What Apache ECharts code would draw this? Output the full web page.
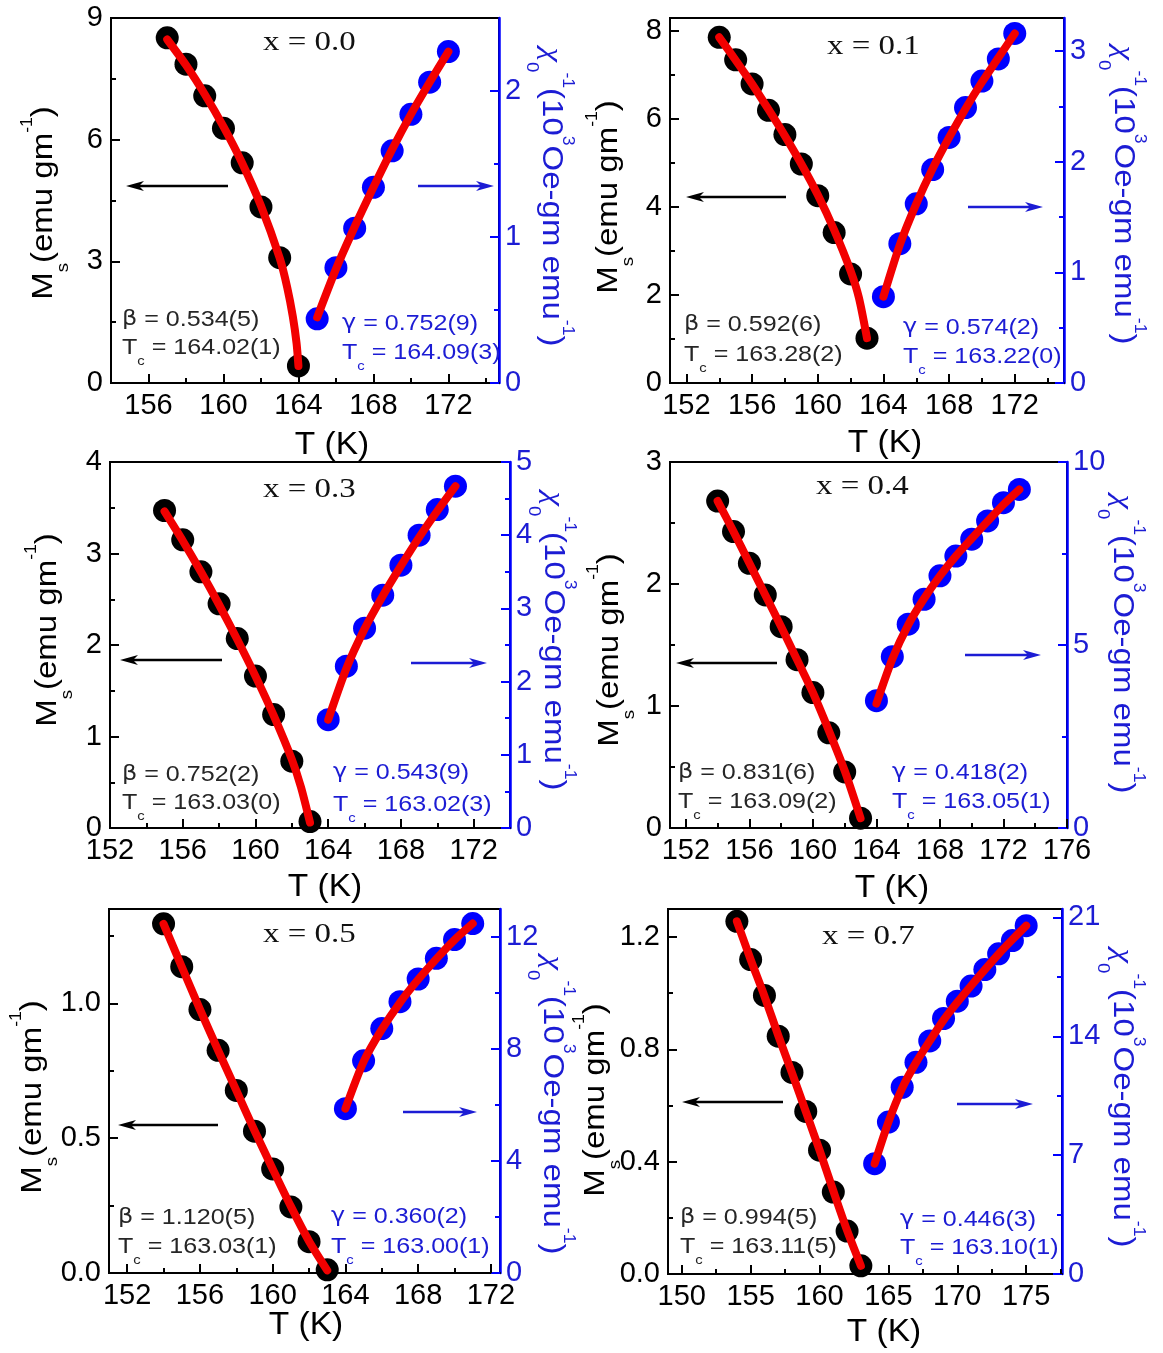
<!DOCTYPE html>
<html><head><meta charset="utf-8">
<script src="https://cdn.jsdelivr.net/npm/echarts@6/dist/echarts.min.js"></script>
<style>html,body{margin:0;padding:0;background:#fff}#c{width:1163px;height:1353px}</style>
</head><body><div id="c"></div>
<script>
// ---------------- DATA ----------------
// Panel 1: x = 0.0
const p1MsT = [157,158,159,160,161,162,163,164];
const p1Ms  = [8.51,7.86,7.08,6.28,5.43,4.34,3.09,0.42];
const p1ChiT = [165,166,167,168,169,170,171,172];
const p1Chi  = [0.44,0.79,1.06,1.34,1.59,1.84,2.06,2.27];
// Panel 2: x = 0.1
const p2MsT = [154,155,156,157,158,159,160,161,162,163];
const p2Ms  = [7.86,7.35,6.80,6.20,5.65,4.98,4.26,3.42,2.48,1.02];
const p2ChiT = [164,165,166,167,168,169,170,171,172];
const p2Chi  = [0.78,1.26,1.62,1.93,2.22,2.49,2.73,2.93,3.16];
// Panel 3: x = 0.3
const p3MsT = [155,156,157,158,159,160,161,162,163];
const p3Ms  = [3.47,3.15,2.80,2.45,2.07,1.66,1.24,0.73,0.07];
const p3ChiT = [164,165,166,167,168,169,170,171];
const p3Chi  = [1.48,2.21,2.73,3.18,3.59,4.00,4.35,4.67];
// Panel 4: x = 0.4
const p4MsT = [154,155,156,157,158,159,160,161,162,163];
const p4Ms  = [2.68,2.43,2.17,1.91,1.65,1.38,1.11,0.78,0.46,0.08];
const p4ChiT = [164,165,166,167,168,169,170,171,172,173];
const p4Chi  = [3.48,4.68,5.57,6.25,6.89,7.43,7.89,8.39,8.89,9.25];
// Panel 5: x = 0.5
const p5MsT = [154,155,156,157,158,159,160,161,162,163];
const p5Ms  = [1.295,1.136,0.977,0.826,0.677,0.526,0.386,0.245,0.116,0.012];
const p5ChiT = [164,165,166,167,168,169,170,171];
const p5Chi  = [5.87,7.58,8.73,9.69,10.50,11.24,11.91,12.48];
// Panel 6: x = 0.7
const p6MsT = [154,155,156,157,158,159,160,161,162,163];
const p6Ms  = [1.256,1.12,0.992,0.847,0.718,0.579,0.441,0.292,0.153,0.029];
const p6ChiT = [164,165,166,167,168,169,170,171,172,173,174,175];
const p6Chi  = [6.5,8.95,11.0,12.47,13.73,15.05,16.07,16.96,17.93,18.86,19.64,20.52];

// Red fit curves, values read along the drawn (smooth) curves
const p1FitMsT = [157,158,159,160,161,162,163,163.4,163.7,163.9,164];
const p1FitMs  = [8.47,7.84,7.12,6.32,5.42,4.37,3.08,2.36,1.64,0.98,0.42];
const p1FitChiT = [165,166,167,168,169,170,171,172];
const p1FitChi  = [0.45,0.78,1.07,1.34,1.60,1.84,2.06,2.27];
const p2FitMsT = [154,155,156,157,158,159,160,161,162,162.5,163];
const p2FitMs  = [7.86,7.34,6.80,6.22,5.62,4.98,4.28,3.48,2.55,1.95,1.02];
const p2FitChiT = [164,165,166,167,168,169,170,171,172];
const p2FitChi  = [0.78,1.25,1.62,1.94,2.22,2.48,2.72,2.94,3.16];
const p3FitMsT = [155,156,157,158,159,160,161,162,162.5,163];
const p3FitMs  = [3.46,3.14,2.80,2.44,2.06,1.66,1.23,0.75,0.45,0.06];
const p3FitChiT = [164,165,166,167,168,169,170,171];
const p3FitChi  = [1.48,2.18,2.72,3.17,3.58,3.97,4.33,4.67];
const p4FitMsT = [154,155,156,157,158,159,160,161,162,163];
const p4FitMs  = [2.68,2.43,2.17,1.91,1.65,1.38,1.11,0.80,0.47,0.08];
const p4FitChiT = [164,165,166,167,168,169,170,171,172,173];
const p4FitChi  = [3.40,4.62,5.55,6.27,6.89,7.43,7.91,8.38,8.84,9.25];
const p5FitMsT = [154,155,156,157,158,159,160,161,162,163];
const p5FitMs  = [1.295,1.136,0.978,0.826,0.677,0.528,0.386,0.247,0.118,0.010];
const p5FitChiT = [164,165,166,167,168,169,170,171];
const p5FitChi  = [5.87,7.55,8.70,9.66,10.48,11.22,11.90,12.48];
const p6FitMsT = [154,155,156,157,158,159,160,161,162,163];
const p6FitMs  = [1.256,1.120,0.990,0.850,0.716,0.579,0.441,0.296,0.155,0.029];
const p6FitChiT = [164,165,166,167,168,169,170,171,172,173,174,175];
const p6FitChi  = [6.5,8.95,10.95,12.45,13.73,14.95,16.0,16.98,17.93,18.85,19.7,20.52];

// Axis ranges and tick labels
const p1XRange=[154,174.7], p1LRange=[0,9],   p1RRange=[0,2.5];
const p2XRange=[151,175],   p2LRange=[0,8.3], p2RRange=[0,3.3];
const p3XRange=[152,174],   p3LRange=[0,4],   p3RRange=[0,5];
const p4XRange=[151,176],   p4LRange=[0,3],   p4RRange=[0,10];
const p5XRange=[151,172.5], p5LRange=[0,1.35],p5RRange=[0,13];
const p6XRange=[149,177.6], p6LRange=[0,1.3], p6RRange=[0,21.5];

const p1XTicks=[156,160,164,168,172], p1XMinor=[158,162,166,170,174];
const p2XTicks=[152,156,160,164,168,172], p2XMinor=[154,158,162,166,170,174];
const p3XTicks=[152,156,160,164,168,172], p3XMinor=[154,158,162,166,170];
const p4XTicks=[152,156,160,164,168,172,176], p4XMinor=[154,158,162,166,170,174];
const p5XTicks=[152,156,160,164,168,172], p5XMinor=[154,158,162,166,170];
const p6XTicks=[150,155,160,165,170,175], p6XMinor=[152.5,157.5,162.5,167.5,172.5,177.5];

const p1LTicks=[0,3,6,9], p1LMinor=[1.5,4.5,7.5];
const p2LTicks=[0,2,4,6,8], p2LMinor=[1,3,5,7];
const p3LTicks=[0,1,2,3,4], p3LMinor=[0.5,1.5,2.5,3.5];
const p4LTicks=[0,1,2,3], p4LMinor=[0.5,1.5,2.5];
const p5LTicks=[0,0.5,1.0], p5LMinor=[0.25,0.75,1.25];
const p6LTicks=[0,0.4,0.8,1.2], p6LMinor=[0.2,0.6,1.0];

const p1RTicks=[0,1,2], p1RMinor=[0.5,1.5];
const p2RTicks=[0,1,2,3], p2RMinor=[0.5,1.5,2.5];
const p3RTicks=[0,1,2,3,4,5], p3RMinor=[0.5,1.5,2.5,3.5,4.5];
const p4RTicks=[0,5,10], p4RMinor=[2.5,7.5];
const p5RTicks=[0,4,8,12], p5RMinor=[2,6,10];
const p6RTicks=[0,7,14,21], p6RMinor=[3.5,10.5,17.5];

// Annotation texts
const p1Text=['x = 0.0','β',' = 0.534(5)','164.02(1)','γ',' = 0.752(9)','164.09(3)'];
const p2Text=['x = 0.1','β',' = 0.592(6)','163.28(2)','γ',' = 0.574(2)','163.22(0)'];
const p3Text=['x = 0.3','β',' = 0.752(2)','163.03(0)','γ',' = 0.543(9)','163.02(3)'];
const p4Text=['x = 0.4','β',' = 0.831(6)','163.09(2)','γ',' = 0.418(2)','163.05(1)'];
const p5Text=['x = 0.5','β',' = 1.120(5)','163.03(1)','γ',' = 0.360(2)','163.00(1)'];
const p6Text=['x = 0.7','β',' = 0.994(5)','163.11(5)','γ',' = 0.446(3)','163.10(1)'];

// ---------------- assembly ----------------
const panels = [
 {T1:p1MsT,M:p1Ms,T2:p1ChiT,C:p1Chi,F1T:p1FitMsT,F1:p1FitMs,F2T:p1FitChiT,F2:p1FitChi,xr:p1XRange,lr:p1LRange,rr:p1RRange,xt:p1XTicks,xm:p1XMinor,lt:p1LTicks,lm:p1LMinor,rt:p1RTicks,rm:p1RMinor,dec:0,txt:p1Text},
 {T1:p2MsT,M:p2Ms,T2:p2ChiT,C:p2Chi,F1T:p2FitMsT,F1:p2FitMs,F2T:p2FitChiT,F2:p2FitChi,xr:p2XRange,lr:p2LRange,rr:p2RRange,xt:p2XTicks,xm:p2XMinor,lt:p2LTicks,lm:p2LMinor,rt:p2RTicks,rm:p2RMinor,dec:0,txt:p2Text},
 {T1:p3MsT,M:p3Ms,T2:p3ChiT,C:p3Chi,F1T:p3FitMsT,F1:p3FitMs,F2T:p3FitChiT,F2:p3FitChi,xr:p3XRange,lr:p3LRange,rr:p3RRange,xt:p3XTicks,xm:p3XMinor,lt:p3LTicks,lm:p3LMinor,rt:p3RTicks,rm:p3RMinor,dec:0,txt:p3Text},
 {T1:p4MsT,M:p4Ms,T2:p4ChiT,C:p4Chi,F1T:p4FitMsT,F1:p4FitMs,F2T:p4FitChiT,F2:p4FitChi,xr:p4XRange,lr:p4LRange,rr:p4RRange,xt:p4XTicks,xm:p4XMinor,lt:p4LTicks,lm:p4LMinor,rt:p4RTicks,rm:p4RMinor,dec:0,txt:p4Text},
 {T1:p5MsT,M:p5Ms,T2:p5ChiT,C:p5Chi,F1T:p5FitMsT,F1:p5FitMs,F2T:p5FitChiT,F2:p5FitChi,xr:p5XRange,lr:p5LRange,rr:p5RRange,xt:p5XTicks,xm:p5XMinor,lt:p5LTicks,lm:p5LMinor,rt:p5RTicks,rm:p5RMinor,dec:1,txt:p5Text},
 {T1:p6MsT,M:p6Ms,T2:p6ChiT,C:p6Chi,F1T:p6FitMsT,F1:p6FitMs,F2T:p6FitChiT,F2:p6FitChi,xr:p6XRange,lr:p6LRange,rr:p6RRange,xt:p6XTicks,xm:p6XMinor,lt:p6LTicks,lm:p6LMinor,rt:p6RTicks,rm:p6RMinor,dec:1,txt:p6Text}
];

// pixel layout of each panel
const layout = [
 {grid:[111,18,388,365], nL:[44,203], nR:[551,197], tk:[332,445], xl:[263,43], beta:[122,320,348], gam:[342,324,353], aL:[126,228,186], aR:[418,494,186]},
 {grid:[670,18,394,365], nL:[609,197], nR:[1123,195], tk:[885,443], xl:[827,47], beta:[684,325,355], gam:[903,328,357], aL:[686,786,197], aR:[968,1043,207]},
 {grid:[110,462,400,366], nL:[48,630], nR:[553,641], tk:[325,887], xl:[263,490], beta:[122,775,803], gam:[333,773,805], aL:[120,222,660], aR:[411,487,663]},
 {grid:[670,462,397,366], nL:[610,650], nR:[1122,644], tk:[892,888], xl:[816,487], beta:[678,773,802], gam:[892,773,802], aL:[676,777,663], aR:[965,1041,655]},
 {grid:[109,909,391,364], nL:[33,1097], nR:[552,1105], tk:[306,1325], xl:[263,935], beta:[118,1218,1247], gam:[331,1217,1247], aL:[118,218,1125], aR:[403,477,1112]},
 {grid:[668,909,394,365], nL:[596,1100], nR:[1122,1098], tk:[884,1332], xl:[822,937], beta:[680,1218,1247], gam:[900,1220,1248], aL:[682,783,1102], aR:[957,1033,1104]}
];

const FONT = '"Liberation Sans", Arial, Helvetica, sans-serif';
const SERIF = '"Liberation Serif", "Times New Roman", serif';
const GREEK = '"DejaVu Sans", "Liberation Sans", sans-serif';
const BLUE = '#0000ff', BLUE_T = '#1c1cd4', RED = '#f20000', GRAY = '#262626';
const TXT_SX = 1.14;   // the reference lettering is a little wider than the font

const zip = (a,b) => a.map((v,i)=>[v,b[i]]);

function nameRich(color){
  return {
    m:{fontSize:30,fontFamily:FONT,fill:color,lineHeight:34,verticalAlign:'middle'},
    chi:{fontSize:30,fontFamily:SERIF,fontStyle:'italic',fill:color,lineHeight:34,verticalAlign:'middle'},
    sub:{fontSize:17,fontFamily:FONT,fill:color,lineHeight:17,verticalAlign:'middle',padding:[38,0,0,0]},
    sup:{fontSize:16,fontFamily:FONT,fill:color,lineHeight:16,verticalAlign:'middle',padding:[0,0,32,0]}
  };
}
function annRich(color){
  return {
    t:{fontSize:22,fontFamily:FONT,fill:color,lineHeight:26,verticalAlign:'middle'},
    g:{fontSize:21,fontFamily:GREEK,fill:color,lineHeight:26,verticalAlign:'middle'},
    s:{fontSize:13,fontFamily:FONT,fill:color,lineHeight:13,verticalAlign:'middle',padding:[26,0,0,0]}
  };
}

const option = {animation:false, backgroundColor:'#fff', grid:[], xAxis:[], yAxis:[], series:[], graphic:[]};

panels.forEach((p,i)=>{
  const L = layout[i];
  option.grid.push({left:L.grid[0], top:L.grid[1], width:L.grid[2], height:L.grid[3],
    show:true, borderColor:'#000', borderWidth:2, backgroundColor:'rgba(0,0,0,0)'});

  const xb = {type:'value', gridIndex:i, min:p.xr[0], max:p.xr[1], position:'bottom', splitLine:{show:false}};
  option.xAxis.push(Object.assign({}, xb, {
    axisLine:{show:true,onZero:false,lineStyle:{color:'#000',width:2}},
    axisTick:{show:true,inside:true,length:9,customValues:p.xt,lineStyle:{color:'#000',width:2}},
    axisLabel:{show:true,customValues:p.xt,margin:8,fontSize:29,fontFamily:FONT,color:'#000',formatter:v=>String(v)}
  }));
  option.xAxis.push(Object.assign({}, xb, {
    axisLine:{show:false},
    axisTick:{show:true,inside:true,length:5,customValues:p.xm,lineStyle:{color:'#000',width:2}},
    axisLabel:{show:false}
  }));

  const lb = {type:'value', gridIndex:i, min:p.lr[0], max:p.lr[1], position:'left', splitLine:{show:false}};
  option.yAxis.push(Object.assign({}, lb, {
    axisLine:{show:true,onZero:false,lineStyle:{color:'#000',width:2}},
    axisTick:{show:true,inside:true,length:9,customValues:p.lt,lineStyle:{color:'#000',width:2}},
    axisLabel:{show:true,customValues:p.lt,margin:8,fontSize:29,fontFamily:FONT,color:'#000',formatter:v=>v.toFixed(p.dec)}
  }));
  option.yAxis.push(Object.assign({}, lb, {
    axisLine:{show:false},
    axisTick:{show:true,inside:true,length:5,customValues:p.lm,lineStyle:{color:'#000',width:2}},
    axisLabel:{show:false}
  }));
  const rb = {type:'value', gridIndex:i, min:p.rr[0], max:p.rr[1], position:'right', splitLine:{show:false}};
  option.yAxis.push(Object.assign({}, rb, {
    axisLine:{show:true,onZero:false,lineStyle:{color:BLUE,width:2.5}},
    axisTick:{show:true,inside:true,length:9,customValues:p.rt,lineStyle:{color:BLUE,width:2}},
    axisLabel:{show:true,customValues:p.rt,margin:6,fontSize:29,fontFamily:FONT,color:BLUE_T,formatter:v=>String(v)}
  }));
  option.yAxis.push(Object.assign({}, rb, {
    axisLine:{show:false},
    axisTick:{show:true,inside:true,length:5,customValues:p.rm,lineStyle:{color:BLUE,width:2}},
    axisLabel:{show:false}
  }));

  const xi = 2*i, yl = 4*i, yr = 4*i+2;
  option.series.push({type:'scatter', xAxisIndex:xi, yAxisIndex:yl, data:zip(p.T1,p.M), symbolSize:23, itemStyle:{color:'#000',opacity:1}, z:2});
  option.series.push({type:'scatter', xAxisIndex:xi, yAxisIndex:yr, data:zip(p.T2,p.C), symbolSize:23, itemStyle:{color:BLUE,opacity:1}, z:2});
  option.series.push({type:'line', xAxisIndex:xi, yAxisIndex:yl, data:zip(p.F1T,p.F1), smooth:0.25, symbol:'none', lineStyle:{color:RED,width:8,cap:'round',join:'round'}, z:3});
  option.series.push({type:'line', xAxisIndex:xi, yAxisIndex:yr, data:zip(p.F2T,p.F2), smooth:0.25, symbol:'none', lineStyle:{color:RED,width:8,cap:'round',join:'round'}, z:3});

  // axis names
  option.graphic.push({type:'text', x:L.nL[0], y:L.nL[1], rotation:Math.PI/2, scaleX:1.1, z:10,
    style:{text:'{m|M}{sub|s}{m|(emu gm}{sup|-1}{m|)}', align:'center', verticalAlign:'middle', rich:nameRich('#000')}});
  option.graphic.push({type:'text', x:L.nR[0], y:L.nR[1], rotation:-Math.PI/2, scaleX:1.1, z:10,
    style:{text:'{chi|χ}{sub|0}{sup|-1}{m|(10}{sup|3}{m|Oe-gm emu}{sup|-1}{m|)}', align:'center', verticalAlign:'middle', rich:nameRich(BLUE_T)}});
  option.graphic.push({type:'text', x:L.tk[0], y:L.tk[1], scaleX:1.08, z:10,
    style:{text:'T (K)', align:'center', verticalAlign:'middle', font:'31px '+FONT, fill:'#000'}});

  // annotations
  option.graphic.push({type:'text', x:L.xl[0], y:L.xl[1], scaleX:1.22, z:10,
    style:{text:p.txt[0], align:'left', verticalAlign:'middle', font:'27px '+SERIF, fill:'#111'}});
  option.graphic.push({type:'text', x:L.beta[0], y:L.beta[1], scaleX:TXT_SX, z:10,
    style:{text:'{g|'+p.txt[1]+'}{t|'+p.txt[2]+'}', align:'left', verticalAlign:'middle', rich:annRich(GRAY)}});
  option.graphic.push({type:'text', x:L.beta[0], y:L.beta[2], scaleX:TXT_SX, z:10,
    style:{text:'{t|T}{s|c}{t| = '+p.txt[3]+'}', align:'left', verticalAlign:'middle', rich:annRich(GRAY)}});
  option.graphic.push({type:'text', x:L.gam[0], y:L.gam[1], scaleX:TXT_SX, z:10,
    style:{text:'{g|'+p.txt[4]+'}{t|'+p.txt[5]+'}', align:'left', verticalAlign:'middle', rich:annRich(BLUE_T)}});
  option.graphic.push({type:'text', x:L.gam[0], y:L.gam[2], scaleX:TXT_SX, z:10,
    style:{text:'{t|T}{s|c}{t| = '+p.txt[6]+'}', align:'left', verticalAlign:'middle', rich:annRich(BLUE_T)}});

  // arrows
  const a = L.aL, b = L.aR;
  option.graphic.push({type:'line', z:10, shape:{x1:a[0]+8,y1:a[2],x2:a[1],y2:a[2]}, style:{stroke:'#000',lineWidth:2.5}});
  option.graphic.push({type:'polygon', z:10, shape:{points:[[a[0],a[2]],[a[0]+18,a[2]-5],[a[0]+13,a[2]],[a[0]+18,a[2]+5]]}, style:{fill:'#000'}});
  option.graphic.push({type:'line', z:10, shape:{x1:b[0],y1:b[2],x2:b[1]-8,y2:b[2]}, style:{stroke:BLUE_T,lineWidth:2.5}});
  option.graphic.push({type:'polygon', z:10, shape:{points:[[b[1],b[2]],[b[1]-18,b[2]-5],[b[1]-13,b[2]],[b[1]-18,b[2]+5]]}, style:{fill:BLUE_T}});
});

const chart = echarts.init(document.getElementById('c'), null, {renderer:'canvas'});
chart.setOption(option);
</script>
</body></html>
